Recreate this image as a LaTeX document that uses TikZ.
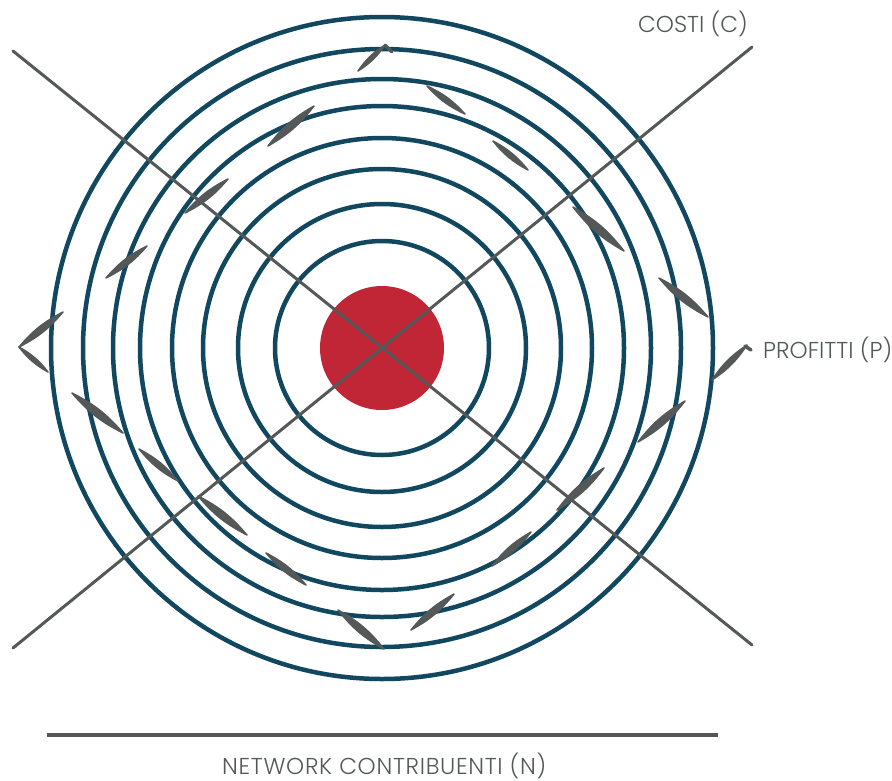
\documentclass[tikz,border=0pt]{standalone}
\usepackage{fontspec}
\setmainfont{Poppins Light}
\definecolor{ring}{RGB}{17,72,96}
\definecolor{core}{RGB}{192,38,54}
\definecolor{ink}{RGB}{85,88,88}
\newcommand\brushstroke[2]{\filldraw[brush] #1 to[bend left=11] #2 to[bend left=11] cycle;}
\begin{document}
\begin{tikzpicture}[x=1pt,y=-1pt,
 ringline/.style={draw=ring,line width=4.5pt},
 axisline/.style={draw=ink,line width=3pt,line cap=round},
 brush/.style={fill=ink,draw=ink,line width=1.5pt,line join=round},
 stub/.style={draw=ink,line width=3.5pt,line cap=round},
 lbl/.style={font=\fontsize{23}{27}\selectfont,text=ink,inner sep=0pt,anchor=base west}]
\useasboundingbox (0,0) rectangle (892,780);
\coordinate (c) at (382,348);
\foreach \r in {107,144,179,210,242,269,299,331}
  \draw[ringline] (c) circle[radius=\r];
\fill[core] (c) circle[radius=62];
% axes
\coordinate (d1a) at (13,51);
\coordinate (d1b) at (752,645);
\coordinate (d2a) at (13,648);
\coordinate (d2b) at (752,47);
\draw[axisline] (d1a) -- (d1b);
\draw[axisline] (d2a) -- (d2b);
\coordinate (ha) at (47,735);
\coordinate (hb) at (718,735);
\draw[draw=ink,line width=4pt] (ha) -- (hb);
% brush strokes
\brushstroke{(358,71)}{(385,45)}
\draw[stub] (385,45) -- (392,52);
\brushstroke{(427,86)}{(465,114)}
\brushstroke{(268,146)}{(314,106)}
\brushstroke{(493,141)}{(528,170)}
\brushstroke{(185,213)}{(228,179)}
\brushstroke{(573,207)}{(624,251)}
\brushstroke{(106,278)}{(147,246)}
\brushstroke{(659,278)}{(708,317)}
\brushstroke{(63,312)}{(19,347)}
\brushstroke{(19,347)}{(48,372)}
\brushstroke{(712,380)}{(747,345)}
\draw[stub] (745,346) -- (751,350);
\brushstroke{(72,393)}{(123,433)}
\brushstroke{(638,442)}{(685,401)}
\brushstroke{(139,449)}{(178,481)}
\brushstroke{(557,510)}{(604,468)}
\brushstroke{(198,496)}{(247,535)}
\brushstroke{(492,566)}{(531,532)}
\brushstroke{(266,553)}{(306,585)}
\brushstroke{(411,630)}{(454,594)}
\brushstroke{(338,610)}{(384,649)}
% labels
\node[lbl] (costi) at (638,32) {COSTI (C)};
\node[lbl] (profitti) at (763,358) {PROFITTI (P)};
\node[lbl,font=\fontsize{23}{27}\selectfont\addfontfeatures{LetterSpace=3}] (network) at (222,774) {NETWORK CONTRIBUENTI (N)};
\end{tikzpicture}
\end{document}
